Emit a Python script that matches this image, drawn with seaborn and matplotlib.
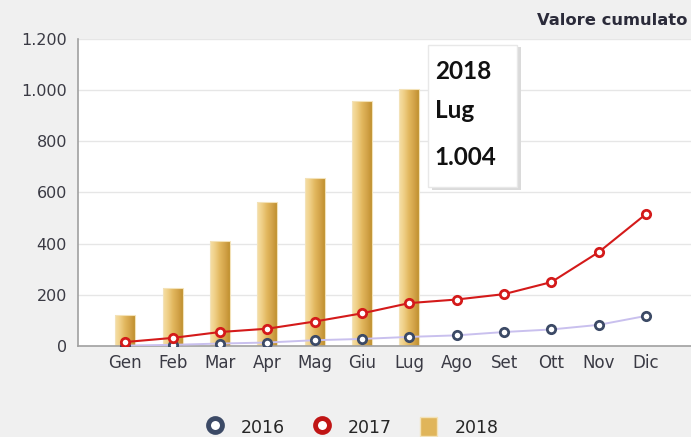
import numpy as np
import seaborn as sns
import matplotlib.pyplot as plt
from matplotlib.patches import FancyBboxPatch, Patch
from matplotlib.lines import Line2D
from matplotlib.ticker import FuncFormatter
from matplotlib.colors import LinearSegmentedColormap

months = ["Gen", "Feb", "Mar", "Apr", "Mag", "Giu", "Lug", "Ago", "Set", "Ott", "Nov", "Dic"]
val_2016 = [2, 5, 10, 14, 23, 28, 36, 42, 55, 65, 83, 118]
val_2017 = [16, 32, 55, 68, 96, 128, 168, 182, 203, 250, 367, 516]
val_2018 = [120, 228, 410, 562, 656, 957, 1004]
months_2018 = months[:len(val_2018)]

bg = "#f0f0f0"
gold = "#e2b85c"
red = "#d41a1a"
navy = "#3c4a66"
lav = "#c9c0ee"

sns.set_theme(style="white")
plt.rcParams["font.family"] = ["DejaVu Sans"]

fig = plt.figure(figsize=(6.91, 4.37), dpi=100, facecolor=bg)
ax = fig.add_axes([0.113, 0.208, 0.887, 0.703])
ax.set_facecolor("white")

sns.barplot(x=months_2018, y=val_2018, order=months, width=0.42, color=gold,
            edgecolor="#f3e2b8", linewidth=0.8, saturation=1, ax=ax)

# gold gradient inside each bar
gold_cmap = LinearSegmentedColormap.from_list(
    "gold", ["#f6e0a8", "#efcf86", "#e2b75e", "#d3a44a", "#c0902f"])
grad = np.linspace(0, 1, 256).reshape(1, -1)
for bar in list(ax.patches):
    x0, y0, w, h = bar.get_x(), bar.get_y(), bar.get_width(), bar.get_height()
    im = ax.imshow(grad, cmap=gold_cmap, extent=[x0, x0 + w, y0, y0 + h],
                   aspect="auto", zorder=2, interpolation="bilinear")
    im.set_clip_path(bar)
    bar.set_facecolor("none")
    bar.set_zorder(2.5)

ax.plot(months, val_2016, color=lav, lw=1.4, zorder=3,
        marker="o", ms=6, mfc="white", mec=navy, mew=2)
ax.plot(months, val_2017, color=red, lw=1.5, zorder=4,
        marker="o", ms=6, mfc="white", mec=red, mew=2)

ax.set_aspect("auto")
ax.set_xlim(-1, 11.95)
ax.set_ylim(0, 1200)
ax.set_yticks(range(0, 1201, 200))
ax.yaxis.set_major_formatter(FuncFormatter(lambda v, p: f"{int(v):,}".replace(",", ".")))
ax.grid(axis="y", color="#e6e6e6", lw=1)
ax.set_axisbelow(True)
ax.set_xlabel("")
ax.set_ylabel("")
for s in ["top", "right"]:
    ax.spines[s].set_visible(False)
for s in ["left", "bottom"]:
    ax.spines[s].set_color("#a0a0a0")
    ax.spines[s].set_linewidth(1.2)
ax.tick_params(axis="both", length=0, labelsize=12, labelcolor="#3a3a44")
ax.tick_params(axis="y", labelsize=11.5, pad=8)
ax.tick_params(axis="x", pad=6)

# tooltip
shadow = FancyBboxPatch((0.577, 0.508), 0.145, 0.467, boxstyle="square,pad=0",
                        transform=ax.transAxes, facecolor="#dadada", edgecolor="none", zorder=5)
box = FancyBboxPatch((0.571, 0.518), 0.145, 0.462, boxstyle="square,pad=0",
                     transform=ax.transAxes, facecolor="white", edgecolor="#e8e8e8", zorder=6)
ax.add_patch(shadow)
ax.add_patch(box)
for txt, yy in [("2018", 0.895), ("Lug", 0.768), ("1.004", 0.615)]:
    ax.text(0.582, yy, txt, transform=ax.transAxes, fontsize=17.5, fontweight="bold",
            family="Lato", color="#111111", va="center", ha="left", zorder=7)

fig.text(0.995, 0.952, "Valore cumulato", ha="right", va="center", fontsize=11.8,
         fontweight="bold", color="#2b2b3a")

handles = [
    Line2D([], [], ls="none", marker="o", ms=10, mfc="white", mec=navy, mew=3.5),
    Line2D([], [], ls="none", marker="o", ms=10, mfc="white", mec="#c01515", mew=3.5),
    Patch(facecolor="#e0b55a", edgecolor="#f3e2b8"),
]
fig.legend(handles, ["2016", "2017", "2018"], loc="center", bbox_to_anchor=(0.51, 0.023),
           ncol=3, frameon=False, fontsize=12.5, handlelength=1.0, handleheight=1.3,
           handletextpad=1.0, columnspacing=1.6)

fig.savefig("out.png", dpi=100, facecolor=bg)
